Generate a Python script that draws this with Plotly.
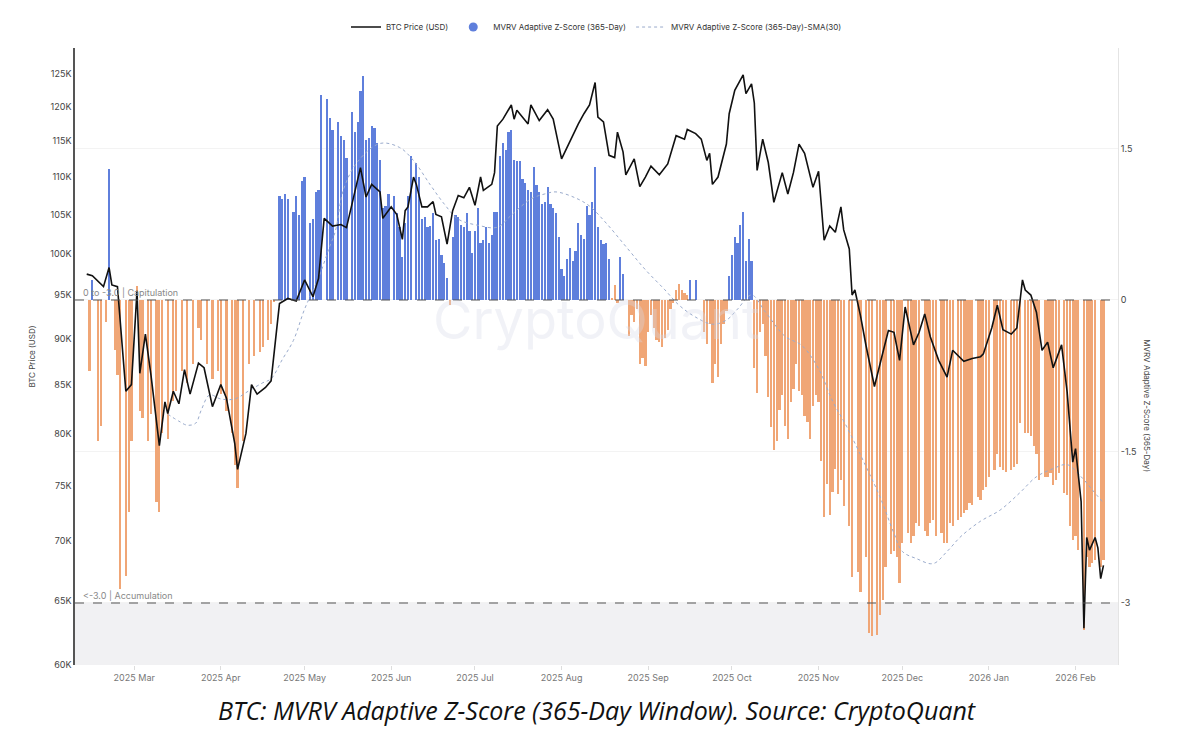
import pandas as pd
import plotly.graph_objects as go

BASE = pd.Timestamp("2025-03-01")

# BTC price (K USD), day offsets from 2025-03-01
price_day = [-17,-15,-11,-9,-8,-6,-3,-1,1,2,4,6,9,11,12,14,16,18,20,23,25,28,31,33,36,37,40,42,44,47,49,52,55,58,61,64,66,68,71,
             74,76,78,81,83,85,88,89,92,94,96,97,98,100,101,103,105,107,108,110,112,114,116,118,120,122,124,125,128,129,130,132,135,136,137,141,142,145,148,150,153,156,159,161,163,
             165,166,168,170,172,173,175,176,179,181,183,185,188,191,194,197,198,201,203,205,206,207,209,212,213,215,218,219,221,222,223,225,227,229,232,234,236,238,240,243,245,247,249,251,253,254,
             256,257,258,260,262,265,267,270,272,274,276,279,281,283,285,288,291,293,297,300,303,304,307,309,311,314,316,318,319,321,323,325,327,329,332,334,336,337,339,340,341,342,344,345,346,347]
price_k = [97.5,97.3,96,98.3,96.2,96,84.3,85,95.5,86.2,90.5,86,78.8,83.2,82,84.3,83,86.6,84,87.3,86.8,82.7,85,83.6,79,76.5,80,85,84,84.7,85.4,94,94.6,94.3,96.8,94.8,97,104.5,103.5,
           103.7,103.3,106.6,111.3,107.3,109,108,104.5,106,105,101.8,105.5,106,110,109,106,106,106.7,105,104.7,101.2,105.5,107.5,107.2,108.6,106.2,110,108.2,109,110.6,117.2,118.2,120.3,118.2,119.5,117.5,120.3,118,119.6,118.2,112.5,115,117.5,119,120.3,
           123.7,118.5,117.8,113,112.7,116.3,113.5,110.3,112.5,108.7,110,111.5,110.3,111.8,115.8,115.3,116.7,116.1,115.3,112.3,113.3,109,110,114.6,119,122.5,124.9,122,123.5,120.6,110.9,115.3,112,106.6,110.6,107.7,110.6,114.6,113.3,108.6,110.8,101.7,103.5,102.7,106,103,
           100.6,95,95.6,92.6,89.2,84.8,87.2,90.9,90.7,87.6,93.6,89.3,90.7,92.8,90.2,87.6,85.8,88.7,87.5,87.8,88,88.3,91.2,93.8,91,90.5,91.2,96.8,95.6,95,93,88.7,89.6,86.8,89.3,84.2,77.2,78.5,73.5,62.8,70.3,69.2,70.3,69.4,66.8,67.9]

# MVRV Adaptive Z-Score (365-Day), day offsets from 2025-03-01
z_day = [-16,-15,-13,-12,-10,-9,-7,-6,-5,-3,-2,-1,1,2,3,5,6,8,9,10,12,14,15,17,19,21,23,24,26,28,30,31,33,35,36,37,39,41,43,45,46,48,49,50,
         52,53,54,55,57,58,59,60,61,63,64,65,66,67,69,70,71,73,74,75,76,78,79,80,81,82,83,84,85,86,87,88,89,90,91,93,94,95,96,97,98,99,101,102,103,104,105,106,107,108,109,110,111,112,113,
         114,115,116,117,118,119,120,121,122,123,124,125,126,127,128,129,130,131,132,133,134,135,136,137,138,139,140,141,142,143,144,145,146,147,148,149,150,151,152,153,154,155,156,157,158,159,160,161,162,163,
         164,165,166,167,168,169,170,171,172,173,174,175,176,177,178,179,180,181,182,183,184,185,186,187,188,189,190,191,192,193,194,195,196,197,198,199,200,201,202,
         204,205,206,207,208,209,210,211,212,213,214,215,216,217,218,219,220,221,222,223,224,225,226,227,228,229,230,231,232,233,234,235,236,237,
         238,239,240,241,242,243,244,245,246,247,248,249,250,251,252,253,254,256,257,259,260,262,263,264,266,267,268,269,271,272,273,274,275,277,278,279,280,281,283,284,285,286,287,289,290,291,292,293,295,296,297,298,299,300,
         302,303,304,305,306,308,309,310,311,312,314,315,316,317,319,320,321,322,323,324,326,327,328,329,330,331,333,334,335,336,337,338,340,341,342,343,344,346,347]
z_val = [-0.7,0.2,-1.4,-1.25,-0.22,1.3,-0.5,-0.74,-2.86,-2.73,-2.1,-1.4,0.14,-1.1,-1.17,-1.4,-1.13,-2.0,-2.1,-1.32,-1.38,-1.0,-0.9,-0.7,-0.82,-0.63,-0.28,-0.4,-0.63,-0.78,-0.7,-0.93,-1.1,-1.32,-1.63,-1.86,-1.4,-0.63,-0.55,-0.51,-0.47,-0.4,-0.24,-0.02,
         1.03,1.0,1.05,1.0,0.87,1.03,0.84,1.18,1.22,0.76,0.8,1.07,1.09,2.03,1.99,1.8,1.68,1.76,1.62,1.58,1.41,1.86,1.66,1.76,2.07,2.22,1.58,1.6,1.72,1.7,1.55,1.39,0.91,0.93,1.05,1.03,0.86,0.72,0.43,0.76,1.03,1.43,1.36,1.22,0.8,0.82,0.72,0.73,0.86,0.59,0.6,0.45,0.37,0.22,-0.05,
         0.62,0.84,0.82,0.74,0.72,0.86,0.68,0.47,0.68,0.91,0.56,0.59,0.72,0.56,0.64,0.87,0.87,1.43,1.55,1.49,1.66,1.68,1.39,1.38,1.38,1.2,1.16,1.09,1.07,1.32,1.14,1.07,0.95,0.97,1.12,0.95,0.91,0.86,0.62,0.31,0.24,0.41,0.51,0.39,0.49,0.76,0.64,0.6,0.93,0.84,
         0.97,1.32,0.72,0.59,0.55,0.56,0.41,0.01,0.15,-0.03,0.43,0.26,0,-0.36,-0.15,-0.22,-0.09,-0.63,-0.57,-0.65,-0.32,-0.15,-0.28,-0.4,-0.42,-0.47,-0.38,-0.3,-0.09,-0.03,0.1,0.16,0.1,0.07,0.05,0.2,0,0.2,0,
         -0.32,-0.44,-0.24,-0.82,-0.63,-0.76,-0.44,-0.24,-0.11,0.24,0.45,0.62,0.56,0.74,0.87,0.39,0.6,0.39,-0.67,-0.92,-0.32,-0.24,-0.55,-0.96,-1.26,-1.49,-1.4,-1.09,-0.94,-1.25,-1.38,-1.01,-0.88,-0.63,
         -0.9,-0.94,-1.15,-1.21,-1.38,-1.05,-0.94,-1.01,-1.59,-2.15,-1.82,-2.13,-1.9,-1.67,-1.92,-1.78,-2.04,-2.24,-2.74,-2.69,-2.89,-2.54,-3.3,-3.33,-3.32,-3.12,-2.97,-2.64,-2.51,-2.49,-2.54,-2.8,-2.41,-2.31,-2.41,-2.34,-2.21,-2.24,-2.29,-2.34,-2.21,-2.18,-2.34,-2.31,-2.41,-2.41,-2.21,-2.24,-2.18,-2.15,-2.11,-2.08,-2.01,-2.03,
         -1.95,-1.98,-1.88,-1.85,-1.75,-1.68,-1.52,-1.65,-1.68,-1.7,-1.68,-1.65,-1.62,-1.22,-1.32,-1.32,-1.35,-1.45,-1.52,-1.78,-1.75,-1.75,-1.71,-1.83,-1.78,-1.71,-1.91,-1.93,-2.24,-2.38,-2.34,-2.48,-3.27,-2.54,-2.64,-2.6,-2.57,-2.64,-2.57]

# SMA(30) of the z-score
sma_day = [12,16,19,22,24,27,31,36,41,46,49,53,57,61,66,70,72,75,80,88,95,100,106,111,116,123,130,135,142,147,151,158,163,
           169,176,183,190,195,201,207,212,216,221,226,233,239,245,250,255,262,267,272,275,280,286,291,296,303,310,317,323,329,334,339,343,347]
sma_val = [-1.13,-1.2,-1.24,-1.22,-1.09,-0.94,-0.98,-0.98,-0.9,-0.82,-0.78,-0.59,-0.4,-0.09,0.22,0.53,0.68,1.1,1.37,1.55,1.51,1.38,1.14,0.95,0.8,0.74,0.72,0.84,1.0,1.05,1.07,1.01,0.93,
           0.76,0.53,0.3,0.1,-0.05,-0.17,-0.24,-0.2,-0.09,0.05,-0.12,-0.36,-0.45,-0.68,-1.0,-1.25,-1.65,-1.95,-2.31,-2.49,-2.56,-2.61,-2.49,-2.34,-2.19,-2.08,-1.91,-1.75,-1.67,-1.63,-1.75,-1.88,-2.01]

def to_dates(days):
    return [BASE + pd.Timedelta(days=d) for d in days]

BLUE = "#5f7fdc"
ORANGE = "#f0a676"
bar_colors = [BLUE if v > 0.17 else ORANGE for v in z_val]

fig = go.Figure()
fig.add_trace(go.Bar(x=to_dates(z_day), y=z_val, marker=dict(color=bar_colors, line=dict(width=0)),
                     width=0.8 * 86400000, yaxis="y", showlegend=False, name="MVRV Adaptive Z-Score (365-Day)"))
fig.add_trace(go.Scatter(x=to_dates(sma_day), y=sma_val, mode="lines", yaxis="y",
                         line=dict(color="#9aabcc", width=1, dash="dot", shape="spline"),
                         name="MVRV Adaptive Z-Score (365-Day)-SMA(30)", legendrank=3))
fig.add_trace(go.Scatter(x=to_dates(price_day), y=[p * 1000 for p in price_k], mode="lines", yaxis="y2",
                         line=dict(color="#111111", width=1.6), name="BTC Price (USD)", legendrank=1))
fig.add_trace(go.Scatter(x=[None], y=[None], mode="markers", marker=dict(color=BLUE, size=9),
                         name="MVRV Adaptive Z-Score (365-Day)", legendrank=2))

x0 = BASE + pd.Timedelta(days=-21.2)
x1 = BASE + pd.Timedelta(days=352.2)

fig.update_layout(
    width=1182, height=733, paper_bgcolor="white", plot_bgcolor="white",
    margin=dict(l=75, r=64, t=48, b=68, autoexpand=False),
    font=dict(family="Inter, Roboto, sans-serif", color="#555", size=9),
    bargap=0,
    legend=dict(orientation="h", x=0.5, xanchor="center", y=1.034, yanchor="middle",
                font=dict(size=8, color="#333"), itemwidth=30, traceorder="normal"),
    xaxis=dict(range=[x0, x1], type="date", dtick="M1", tick0="2025-03-01", tickformat="%Y %b",
               showgrid=False, ticks="outside", ticklen=4, tickcolor="#ddd",
               tickfont=dict(size=9, color="#777"), showline=False),
    yaxis=dict(side="right", range=[-3.614, 2.495], tickvals=[1.5, 0, -1.5, -3],
               ticktext=["1.5", "0", "-1.5", "-3"], showgrid=True, gridcolor="#f3f3f3",
               zeroline=False, showline=True, linecolor="#e4e4e4", tickfont=dict(size=9, color="#444")),
    yaxis2=dict(side="left", overlaying="y", type="log",
                range=[4.77815, 5.1110], tickvals=[v * 1000 for v in range(60, 130, 5)],
                ticktext=[f"{v}K" for v in range(60, 130, 5)], showgrid=False,
                showline=True, linecolor="#555", linewidth=1.5, tickfont=dict(size=9, color="#444"),
                title=dict(text="BTC Price (USD)", font=dict(size=8, color="#444"), standoff=14)),
    shapes=[
        dict(type="rect", xref="paper", yref="y", x0=0, x1=1, y0=-3.614, y1=-3, fillcolor="#f1f1f3",
             line=dict(width=0), layer="below"),
        dict(type="line", xref="paper", yref="y", x0=0, x1=1.0, y0=0, y1=0,
             line=dict(color="#555", width=1.2, dash="dash")),
        dict(type="line", xref="paper", yref="y", x0=0, x1=1.0, y0=-3, y1=-3,
             line=dict(color="#555", width=1.2, dash="dash")),
    ],
    annotations=[
        dict(text="0 to -3.0 | Capitulation", xref="paper", yref="y", x=0.006, y=0, xanchor="left",
             yanchor="bottom", showarrow=False, font=dict(size=9, color="#888")),
        dict(text="<-3.0 | Accumulation", xref="paper", yref="y", x=0.006, y=-3, xanchor="left",
             yanchor="bottom", showarrow=False, font=dict(size=9, color="#888")),
        dict(text="CryptoQuant", xref="paper", yref="paper", x=0.5, y=0.56, showarrow=False,
             font=dict(size=54, color="rgba(215,218,232,0.35)", family="Inter, sans-serif")),
        dict(text="MVRV Adaptive Z-Score (365-Day)", xref="paper", yref="paper", x=1.035, y=0.42,
             textangle=90, showarrow=False, font=dict(size=8, color="#444")),
        dict(text="<i>BTC: MVRV Adaptive Z-Score (365-Day Window). Source: CryptoQuant</i>",
             xref="paper", yref="paper", x=0.5, y=-0.073, yanchor="middle", showarrow=False,
             font=dict(size=25, color="#111", family="Open Sans")),
    ],
)

fig.write_html("out.html", config={"displayModeBar": False})
with open("out.html", encoding="utf-8") as f:
    html = f.read()
html = html.replace("<body>", '<body style="margin:0;padding:0;overflow:hidden">', 1)
with open("out.html", "w", encoding="utf-8") as f:
    f.write(html)
